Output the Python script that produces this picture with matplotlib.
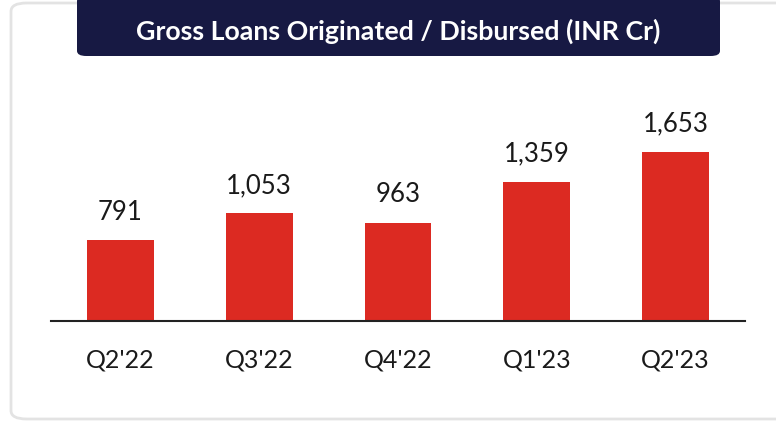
import matplotlib.pyplot as plt
from matplotlib.patches import FancyBboxPatch

quarters = ["Q2'22", "Q3'22", "Q4'22", "Q1'23", "Q2'23"]
loans = [791, 1053, 963, 1359, 1653]

W, H = 776, 422
fig = plt.figure(figsize=(W / 100, H / 100), dpi=100)

# card border
card = FancyBboxPatch((11 / W, 3 / H), 800 / W, 416 / H,
                      boxstyle="round,pad=0,rounding_size=0.02",
                      transform=fig.transFigure, fc='white', ec='#e3e3e3', lw=2,
                      zorder=-2)
fig.patches.append(card)

# title box
tbox = FancyBboxPatch((77 / W, 366 / H), 643 / W, 60 / H,
                      boxstyle="round,pad=0,rounding_size=0.012",
                      transform=fig.transFigure, fc='#171943', ec='none', zorder=-1)
fig.patches.append(tbox)
fig.text(398 / W, (H - 31) / H, 'Gross Loans Originated / Disbursed (INR Cr)',
         ha='center', va='center', color='white', fontsize=19.3,
         fontweight='bold', family='Lato')

ax = fig.add_axes([51 / W, (H - 321) / H, 694 / W, 251 / H])
x = range(len(quarters))
bars = ax.bar(x, loans, width=0.48, color='#dc2a22')
for b, v in zip(bars, loans):
    ax.text(b.get_x() + b.get_width() / 2, v + 200, f'{v:,}',
            ha='center', va='baseline', fontsize=18.5, color='#1a1a1a', family='Lato')

ax.set_xlim(-0.5, 4.5)
ax.set_ylim(0, 251 / 0.1022)
ax.set_xticks(list(x))
ax.set_xticklabels(quarters, fontsize=18, family='Lato', color='#1a1a1a')
ax.tick_params(axis='x', length=0, pad=20)
ax.set_yticks([])
for s in ['top', 'right', 'left']:
    ax.spines[s].set_visible(False)
ax.spines['bottom'].set_color('#222222')
ax.spines['bottom'].set_linewidth(1.5)
ax.patch.set_alpha(0)

fig.savefig('out.png', dpi=100)
